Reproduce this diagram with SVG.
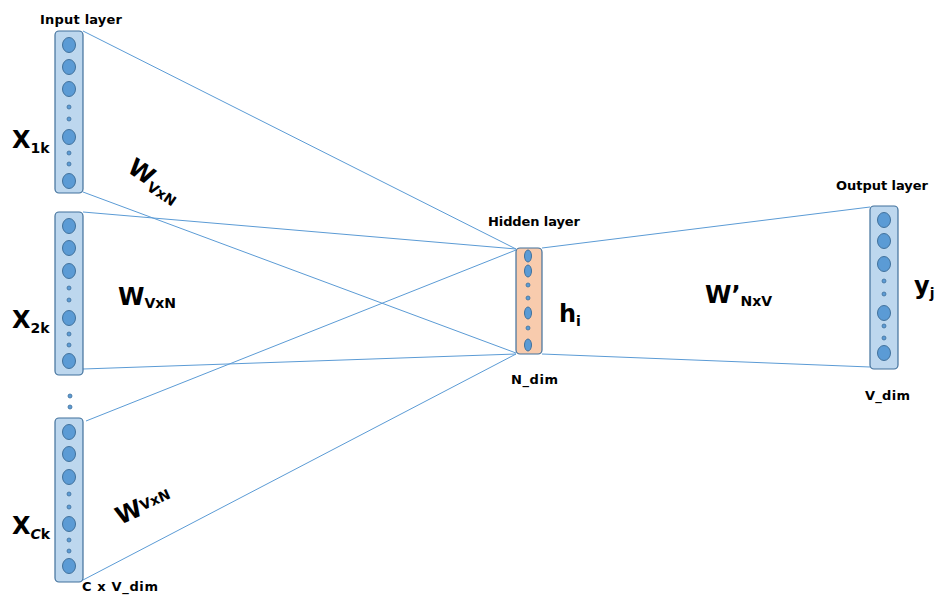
<svg xmlns="http://www.w3.org/2000/svg" width="935" height="599" viewBox="0 0 935 599">
<style>
.box{fill:#BDD7EE;stroke:#41719C;stroke-width:1.2}
.hbox{fill:#F8CBAD;stroke:#41719C;stroke-width:1.2}
.n{fill:#5B9BD5;stroke:#41719C;stroke-width:1}
.d{fill:#5B9BD5;stroke:#41719C;stroke-width:0.8}
.ln{stroke:#5B9BD5;stroke-width:1;fill:none}
.lbl{font-family:"DejaVu Sans",sans-serif;font-weight:bold;font-size:13px;fill:#000}
.big{font-family:"DejaVu Sans",sans-serif;font-weight:bold;font-size:24px;fill:#000}
.sub{font-family:"DejaVu Sans",sans-serif;font-weight:bold;font-size:14px;fill:#000}
.bg{fill:#fff}
</style>
<rect class="bg" width="935" height="599"/>
<g id="connectors">
<line class="ln" x1="83" y1="31" x2="516" y2="249"/>
<line class="ln" x1="83" y1="192" x2="516" y2="353"/>
<line class="ln" x1="83" y1="212" x2="516" y2="249"/>
<line class="ln" x1="83" y1="369" x2="516" y2="354"/>
<line class="ln" x1="86" y1="421" x2="516" y2="250"/>
<line class="ln" x1="83" y1="580" x2="516" y2="354"/>
<line class="ln" x1="542" y1="248" x2="870" y2="207"/>
<line class="ln" x1="542" y1="354" x2="870" y2="367"/>
</g>
<g id="input1">
<rect class="box" x="55" y="31" width="28" height="162" rx="4"/>
<ellipse class="n" cx="69" cy="45" rx="6.5" ry="7.5"/>
<ellipse class="n" cx="69" cy="67" rx="6.5" ry="7.5"/>
<ellipse class="n" cx="69" cy="89" rx="6.5" ry="7.5"/>
<circle class="d" cx="69" cy="107" r="2"/>
<circle class="d" cx="69" cy="119" r="2"/>
<ellipse class="n" cx="69" cy="137" rx="6.5" ry="7.5"/>
<circle class="d" cx="69" cy="153" r="2"/>
<circle class="d" cx="69" cy="164" r="2"/>
<ellipse class="n" cx="69" cy="181" rx="6.5" ry="7.5"/>
</g>
<g id="input2">
<rect class="box" x="55" y="212" width="28" height="163" rx="4"/>
<ellipse class="n" cx="69" cy="226" rx="6.5" ry="7.5"/>
<ellipse class="n" cx="69" cy="248" rx="6.5" ry="7.5"/>
<ellipse class="n" cx="69" cy="271" rx="6.5" ry="7.5"/>
<circle class="d" cx="69" cy="288" r="2"/>
<circle class="d" cx="69" cy="300" r="2"/>
<ellipse class="n" cx="69" cy="318" rx="6.5" ry="7.5"/>
<circle class="d" cx="69" cy="334" r="2"/>
<circle class="d" cx="69" cy="345" r="2"/>
<ellipse class="n" cx="69" cy="361" rx="6.5" ry="7.5"/>
</g>
<g id="dots">
<circle class="d" cx="70" cy="396" r="2"/>
<circle class="d" cx="70" cy="407" r="2"/>
</g>
<g id="input3">
<rect class="box" x="55" y="418" width="28" height="164" rx="4"/>
<ellipse class="n" cx="69" cy="432" rx="6.5" ry="7.5"/>
<ellipse class="n" cx="69" cy="454" rx="6.5" ry="7.5"/>
<ellipse class="n" cx="69" cy="477" rx="6.5" ry="7.5"/>
<circle class="d" cx="69" cy="494" r="2"/>
<circle class="d" cx="69" cy="507" r="2"/>
<ellipse class="n" cx="69" cy="524" rx="6.5" ry="7.5"/>
<circle class="d" cx="69" cy="540" r="2"/>
<circle class="d" cx="69" cy="551" r="2"/>
<ellipse class="n" cx="69" cy="566" rx="6.5" ry="7.5"/>
</g>
<g id="hidden">
<rect class="hbox" x="516" y="248" width="26" height="106" rx="4"/>
<ellipse class="n" cx="528" cy="256" rx="3.5" ry="6"/>
<ellipse class="n" cx="528" cy="271" rx="3.5" ry="6"/>
<circle class="d" cx="528" cy="285" r="2"/>
<circle class="d" cx="528" cy="298" r="2"/>
<ellipse class="n" cx="528" cy="313" rx="3.5" ry="6"/>
<circle class="d" cx="528" cy="328" r="2"/>
<ellipse class="n" cx="528" cy="345" rx="3.5" ry="6"/>
</g>
<g id="output">
<rect class="box" x="870" y="206" width="28" height="163" rx="4"/>
<ellipse class="n" cx="884" cy="220" rx="6.5" ry="7.5"/>
<ellipse class="n" cx="884" cy="241" rx="6.5" ry="7.5"/>
<ellipse class="n" cx="884" cy="264" rx="6.5" ry="7.5"/>
<circle class="d" cx="884" cy="281" r="2"/>
<circle class="d" cx="884" cy="294" r="2"/>
<ellipse class="n" cx="884" cy="313" rx="6.5" ry="7.5"/>
<circle class="d" cx="884" cy="326" r="2"/>
<circle class="d" cx="884" cy="338" r="2"/>
<ellipse class="n" cx="884" cy="353" rx="6.5" ry="7.5"/>
</g>
<g id="labels">
<text class="lbl" x="40" y="24" textLength="82">Input layer</text>
<text class="lbl" x="488" y="226" textLength="92">Hidden layer</text>
<text class="lbl" x="836" y="190" textLength="92">Output layer</text>
<text class="lbl" x="511" y="384" textLength="47">N_dim</text>
<text class="lbl" x="865" y="400" textLength="45">V_dim</text>
<text class="lbl" x="82" y="591" textLength="76">C x V_dim</text>
<text x="12" y="148"><tspan class="big">X</tspan><tspan class="sub" dy="5">1k</tspan></text>
<text x="12" y="328"><tspan class="big">X</tspan><tspan class="sub" dy="5">2k</tspan></text>
<text x="12" y="534"><tspan class="big">X</tspan><tspan class="sub" dy="5" font-style="italic">C</tspan><tspan class="sub">k</tspan></text>
<text x="118" y="305"><tspan class="big" font-size="26">W</tspan><tspan class="sub" dy="3">VxN</tspan></text>
<text transform="translate(126,171) rotate(34)"><tspan class="big" font-size="26">W</tspan><tspan class="sub" dy="4">VxN</tspan></text>
<text transform="translate(120,525) rotate(-24)"><tspan class="big" font-size="26">W</tspan><tspan class="sub" dy="-4">VxN</tspan></text>
<text x="705" y="303"><tspan class="big" font-size="22">W’</tspan><tspan class="sub" dy="3">NxV</tspan></text>
<text x="559" y="322"><tspan class="big" font-size="22">h</tspan><tspan class="sub" font-size="11" dy="4">i</tspan></text>
<text x="914" y="294"><tspan class="big" font-size="22">y</tspan><tspan class="sub" font-size="11" dy="4">j</tspan></text>
</g>
</svg>
